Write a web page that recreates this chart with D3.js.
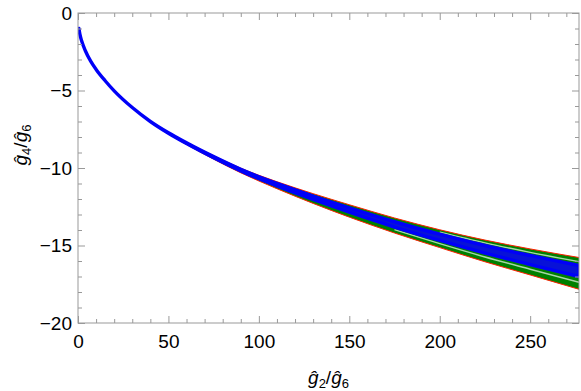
<!DOCTYPE html>
<html>
<head>
<meta charset="utf-8">
<script src="https://cdn.jsdelivr.net/npm/d3@7"></script>
<style>
body { margin: 0; background: #fff; }
</style>
</head>
<body>
<script>
"use strict";

let width = 581;
let height = 391;

// x values (g2/g6) where the band edges were read
let xs = [0.5, 1, 2, 4, 7, 10, 15, 20, 30, 40, 50, 60, 75, 90, 110, 130, 150, 175, 200, 225, 250, 277];
// outer (red) edges
let redTop = [-1.0, -1.35, -1.79, -2.42, -3.11, -3.64, -4.37, -5.02, -6.10, -6.975, -7.70, -8.335, -9.21, -10.01, -10.885, -11.655, -12.37, -13.225, -13.985, -14.65, -15.22, -15.775];
let redBot = [-1.0, -1.35, -1.79, -2.42, -3.11, -3.64, -4.37, -5.02, -6.10, -7.025, -7.80, -8.485, -9.43, -10.31, -11.335, -12.285, -13.17, -14.195, -15.135, -16.05, -16.90, -17.825];
// inner (blue) band
let blueTop = [-1.0, -1.35, -1.79, -2.42, -3.11, -3.64, -4.37, -5.02, -6.10, -6.988, -7.725, -8.372, -9.265, -10.085, -10.998, -11.812, -12.57, -13.468, -14.272, -15.0, -15.64, -16.288];
let blueBot = [-1.0, -1.35, -1.79, -2.42, -3.11, -3.64, -4.37, -5.02, -6.10, -7.005, -7.76, -8.425, -9.342, -10.19, -11.155, -12.033, -12.85, -13.807, -14.675, -15.49, -16.228, -17.005];
// pale lines inside the green part
let upStripeX = [200, 225, 250, 277];
let upStripe = [-14.135, -14.83, -15.44, -16.04];
let lowStripeX = [175, 200, 225, 250, 277];
let lowStripe = [-13.98, -14.88, -15.74, -16.53, -17.37];

let xTicks = [0, 50, 100, 150, 200, 250];
let yTicks = [-20, -15, -10, -5, 0];

let pLeft = 78, pRight = 579, pTop = 13, pBottom = 323;
let frameColor = "#999";
let font = "'Liberation Sans', Arial, sans-serif";

let svg = d3.select("body").append("svg").attr("width", width).attr("height", height);

let x = d3.scaleLinear().domain([0, 277]).range([pLeft, pRight]);
let y = d3.scaleLinear().domain([-20, 0]).range([pBottom, pTop]);

svg.append("clipPath").attr("id", "clip")
  .append("rect").attr("x", pLeft).attr("y", pTop).attr("width", pRight - pLeft).attr("height", pBottom - pTop);

let g = svg.append("g").attr("clip-path", "url(#clip)");

let curve = d3.curveMonotoneX;
let idx = d3.range(xs.length);

let outerArea = d3.area().curve(curve)
  .x(i => x(xs[i])).y0(i => y(redBot[i])).y1(i => y(redTop[i]));
let innerArea = d3.area().curve(curve)
  .x(i => x(xs[i])).y0(i => y(blueBot[i])).y1(i => y(blueTop[i]));
let edge = arr => d3.line().curve(curve).x(i => x(xs[i])).y(i => y(arr[i]));

g.append("path").attr("d", outerArea(idx)).attr("fill", "#008000");
g.append("path").attr("d", edge(redTop)(idx)).attr("fill", "none").attr("stroke", "#ff2000").attr("stroke-width", 1);
g.append("path").attr("d", edge(redBot)(idx)).attr("fill", "none").attr("stroke", "#ff2000").attr("stroke-width", 1);

let stripe = (sx, sy) => d3.line().curve(curve).x(i => x(sx[i])).y(i => y(sy[i]))(d3.range(sx.length));
g.append("path").attr("d", stripe(upStripeX, upStripe)).attr("fill", "none").attr("stroke", "#a6d6a6").attr("stroke-width", 1.4);
g.append("path").attr("d", stripe(lowStripeX, lowStripe)).attr("fill", "none").attr("stroke", "#a6d6a6").attr("stroke-width", 1.4);

g.append("path").attr("d", innerArea(idx))
  .attr("fill", "#0812d8")
  .attr("stroke", "#0000f8")
  .attr("stroke-width", 3.4)
  .attr("stroke-linejoin", "round");

// frame with inward ticks
function styleAxis(sel) {
  sel.select(".domain").remove();
  sel.selectAll("line").attr("stroke", frameColor);
  sel.selectAll("text").attr("font-size", 19).attr("font-family", font).attr("fill", "#000");
}

let xMinor = d3.range(0, 280, 10).filter(v => v % 50 !== 0);
let yMinor = d3.range(-20, 1, 1).filter(v => v % 5 !== 0);

svg.append("g").attr("transform", `translate(0,${pBottom})`)
  .call(d3.axisBottom(x).tickValues(xTicks).tickSize(-7).tickPadding(12).tickFormat(d3.format("d"))).call(styleAxis);
svg.append("g").attr("transform", `translate(0,${pBottom})`)
  .call(d3.axisBottom(x).tickValues(xMinor).tickSize(-4).tickFormat("")).call(styleAxis);
svg.append("g").attr("transform", `translate(0,${pTop})`)
  .call(d3.axisTop(x).tickValues(xTicks).tickSize(-7).tickFormat("")).call(styleAxis);
svg.append("g").attr("transform", `translate(0,${pTop})`)
  .call(d3.axisTop(x).tickValues(xMinor).tickSize(-4).tickFormat("")).call(styleAxis);

svg.append("g").attr("transform", `translate(${pLeft},0)`)
  .call(d3.axisLeft(y).tickValues(yTicks).tickSize(-7).tickPadding(6).tickFormat(d3.format("d"))).call(styleAxis);
svg.append("g").attr("transform", `translate(${pLeft},0)`)
  .call(d3.axisLeft(y).tickValues(yMinor).tickSize(-4).tickFormat("")).call(styleAxis);
svg.append("g").attr("transform", `translate(${pRight},0)`)
  .call(d3.axisRight(y).tickValues(yTicks).tickSize(-7).tickFormat("")).call(styleAxis);
svg.append("g").attr("transform", `translate(${pRight},0)`)
  .call(d3.axisRight(y).tickValues(yMinor).tickSize(-4).tickFormat("")).call(styleAxis);

svg.append("rect")
  .attr("x", pLeft).attr("y", pTop).attr("width", pRight - pLeft).attr("height", pBottom - pTop)
  .attr("fill", "none").attr("stroke", frameColor).attr("stroke-width", 1);

// axis titles: g-hat with subscripts
function ratioLabel(sel, a, b) {
  sel.append("tspan").attr("font-style", "italic").text("ĝ");
  sel.append("tspan").attr("font-size", 13).attr("dy", 4).text(a);
  sel.append("tspan").attr("dy", -4).text("/");
  sel.append("tspan").attr("font-style", "italic").text("ĝ");
  sel.append("tspan").attr("font-size", 13).attr("dy", 4).text(b);
}

svg.append("text")
  .attr("x", (pLeft + pRight) / 2).attr("y", 384)
  .attr("text-anchor", "middle")
  .attr("font-family", font).attr("font-size", 19)
  .call(ratioLabel, "2", "6");

svg.append("text")
  .attr("transform", "translate(27,145) rotate(-90)")
  .attr("text-anchor", "middle")
  .attr("font-family", font).attr("font-size", 19)
  .call(ratioLabel, "4", "6");
</script>
</body>
</html>
